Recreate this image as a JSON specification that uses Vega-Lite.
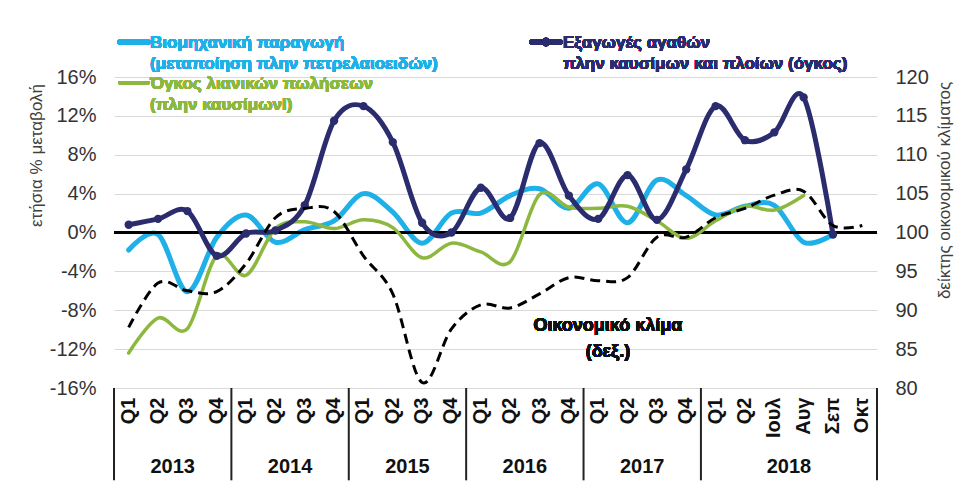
{
  "$schema": "https://vega.github.io/schema/vega-lite/v6.json",
  "width": 763,
  "height": 311,
  "autosize": {"type": "none"},
  "padding": {"left": 114, "top": 77, "right": 83, "bottom": 106},
  "background": "white",
  "config": {"view": {"stroke": null}, "font": "Liberation Sans"},
  "data": {"values": [
    {"period": "2013 Q1", "year": "2013", "q": "Q1", "ind": -1.8, "retail": -12.4, "exports": 0.8, "esi": 87.8},
    {"period": "2013 Q2", "year": "2013", "q": "Q2", "ind": -0.2, "retail": -8.8, "exports": 1.4, "esi": 93.5},
    {"period": "2013 Q3", "year": "2013", "q": "Q3", "ind": -6.1, "retail": -9.9, "exports": 2.2, "esi": 92.5},
    {"period": "2013 Q4", "year": "2013", "q": "Q4", "ind": -0.5, "retail": -2.4, "exports": -2.4, "esi": 92.4},
    {"period": "2014 Q1", "year": "2014", "q": "Q1", "ind": 1.8, "retail": -4.4, "exports": -0.1, "esi": 96.0},
    {"period": "2014 Q2", "year": "2014", "q": "Q2", "ind": -1.0, "retail": 0.4, "exports": 0.2, "esi": 101.9},
    {"period": "2014 Q3", "year": "2014", "q": "Q3", "ind": 0.3, "retail": 1.1, "exports": 2.8, "esi": 103.1},
    {"period": "2014 Q4", "year": "2014", "q": "Q4", "ind": 1.2, "retail": 0.4, "exports": 11.5, "esi": 102.7},
    {"period": "2015 Q1", "year": "2015", "q": "Q1", "ind": 4.0, "retail": 1.3, "exports": 13.0, "esi": 97.0},
    {"period": "2015 Q2", "year": "2015", "q": "Q2", "ind": 2.1, "retail": 0.5, "exports": 9.3, "esi": 92.1},
    {"period": "2015 Q3", "year": "2015", "q": "Q3", "ind": -1.1, "retail": -2.6, "exports": 1.0, "esi": 80.7},
    {"period": "2015 Q4", "year": "2015", "q": "Q4", "ind": 2.0, "retail": -1.1, "exports": 0.0, "esi": 87.6},
    {"period": "2016 Q1", "year": "2016", "q": "Q1", "ind": 2.0, "retail": -2.0, "exports": 4.6, "esi": 90.7},
    {"period": "2016 Q2", "year": "2016", "q": "Q2", "ind": 3.8, "retail": -3.0, "exports": 1.5, "esi": 90.3},
    {"period": "2016 Q3", "year": "2016", "q": "Q3", "ind": 4.5, "retail": 3.9, "exports": 9.2, "esi": 92.1},
    {"period": "2016 Q4", "year": "2016", "q": "Q4", "ind": 2.5, "retail": 2.6, "exports": 3.8, "esi": 94.2},
    {"period": "2017 Q1", "year": "2017", "q": "Q1", "ind": 5.0, "retail": 2.5, "exports": 1.4, "esi": 93.8},
    {"period": "2017 Q2", "year": "2017", "q": "Q2", "ind": 1.0, "retail": 2.7, "exports": 5.9, "esi": 94.2},
    {"period": "2017 Q3", "year": "2017", "q": "Q3", "ind": 5.4, "retail": 1.2, "exports": 1.3, "esi": 99.4},
    {"period": "2017 Q4", "year": "2017", "q": "Q4", "ind": 3.8, "retail": -0.6, "exports": 6.5, "esi": 99.4},
    {"period": "2018 Q1", "year": "2018", "q": "Q1", "ind": 1.8, "retail": 1.2, "exports": 13.0, "esi": 101.9},
    {"period": "2018 Q2", "year": "2018", "q": "Q2", "ind": 2.7, "retail": 2.7, "exports": 9.5, "esi": 103.1},
    {"period": "2018 Ιουλ", "year": "2018", "q": "Ιουλ", "ind": 2.8, "retail": 2.3, "exports": 10.3, "esi": 104.8},
    {"period": "2018 Αυγ", "year": "2018", "q": "Αυγ", "ind": -1.0, "retail": 3.8, "exports": 13.9, "esi": 105.3},
    {"period": "2018 Σεπ", "year": "2018", "q": "Σεπ", "ind": -0.2, "retail": null, "exports": -0.2, "esi": 100.9},
    {"period": "2018 Οκτ", "year": "2018", "q": "Οκτ", "ind": null, "retail": null, "exports": null, "esi": 100.9}
  ]},
  "layer": [
    {
      "layer": [
        {
          "mark": {"type": "line", "interpolate": "cardinal", "color": "#1fb0e8", "strokeWidth": 5, "strokeCap": "round", "strokeJoin": "round"},
          "encoding": {
            "x": {"field": "period", "type": "nominal", "sort": null, "bandPosition": 0.5,
              "scale": {"type": "band", "paddingInner": 0, "paddingOuter": 0,
                "domain": ["2013 Q1","2013 Q2","2013 Q3","2013 Q4","2014 Q1","2014 Q2","2014 Q3","2014 Q4","2015 Q1","2015 Q2","2015 Q3","2015 Q4","2016 Q1","2016 Q2","2016 Q3","2016 Q4","2017 Q1","2017 Q2","2017 Q3","2017 Q4","2018 Q1","2018 Q2","2018 Ιουλ","2018 Αυγ","2018 Σεπ","2018 Οκτ"]},
              "axis": {"title": null, "labelExpr": "split(datum.value, ' ')[1]", "labelAngle": 270, "labelFont": "Liberation Sans", "labelFontWeight": "bold", "labelFontSize": 20, "labelColor": "#111111", "labelPadding": 9, "labelOverlap": false, "ticks": false, "domain": false, "grid": false}},
            "y": {"field": "ind", "type": "quantitative", "scale": {"domain": [-16, 16], "nice": false},
              "axis": {"title": "ετήσια % μεταβολή", "values": [-16, -12, -8, -4, 0, 4, 8, 12, 16], "tickCount": 20, "labelOverlap": false, "labelExpr": "datum.value + '%'", "grid": true, "gridColor": "#d9d9d9", "gridWidth": 1, "ticks": false, "domain": false, "labelFont": "Liberation Sans", "labelFontSize": 20, "labelColor": "#333333", "labelPadding": 18, "titleFont": "Liberation Sans", "titleFontSize": 17, "titleFontWeight": "normal", "titleColor": "#404040", "titleAngle": 270, "titleX": -78, "titleY": 78, "titleAlign": "center", "titleBaseline": "middle"}}
          }
        },
        {
          "mark": {"type": "rule", "color": "#000000", "strokeWidth": 1.5},
          "encoding": {"y": {"datum": 0}}
        },
        {
          "mark": {"type": "line", "interpolate": "cardinal", "color": "#8cb83f", "strokeWidth": 3.5, "strokeCap": "round", "strokeJoin": "round"},
          "encoding": {
            "x": {"field": "period", "type": "nominal", "sort": null, "bandPosition": 0.5},
            "y": {"field": "retail", "type": "quantitative"}
          }
        },
        {
          "mark": {"type": "line", "interpolate": "cardinal", "color": "#2a2c6e", "strokeWidth": 5, "strokeCap": "round", "strokeJoin": "round"},
          "encoding": {
            "x": {"field": "period", "type": "nominal", "sort": null, "bandPosition": 0.5},
            "y": {"field": "exports", "type": "quantitative"}
          }
        },
        {
          "mark": {"type": "point", "filled": true, "size": 70, "opacity": 1, "color": "#2a2c6e"},
          "encoding": {
            "x": {"field": "period", "type": "nominal", "sort": null, "bandPosition": 0.5},
            "y": {"field": "exports", "type": "quantitative"}
          }
        },
        {
          "transform": [{"filter": "datum.q === 'Q1'"}],
          "mark": {"type": "rule", "color": "#222222", "strokeWidth": 2},
          "encoding": {
            "x": {"field": "period", "type": "nominal", "sort": null, "bandPosition": 0},
            "y": {"datum": -16},
            "y2": {"datum": -25.5}
          }
        },
        {
          "transform": [{"filter": "datum.q === 'Οκτ'"}],
          "mark": {"type": "rule", "color": "#222222", "strokeWidth": 2},
          "encoding": {
            "x": {"field": "period", "type": "nominal", "sort": null, "bandPosition": 1},
            "y": {"datum": -16},
            "y2": {"datum": -25.5}
          }
        },
        {
          "transform": [{"filter": "datum.q === 'Q3' || datum.q === 'Αυγ'"}],
          "mark": {"type": "text", "font": "Liberation Sans", "fontWeight": "bold", "fontSize": 20, "color": "#111111", "align": "center", "baseline": "middle"},
          "encoding": {
            "x": {"field": "period", "type": "nominal", "sort": null, "bandPosition": 0},
            "y": {"datum": -24.1},
            "text": {"field": "year"}
          }
        },
        {
          "mark": {"type": "point", "shape": "M-1,0L1,0", "filled": false, "size": 784, "strokeWidth": 5, "strokeCap": "round", "color": "#1fb0e8", "opacity": 1},
          "encoding": {"x": {"datum": "2013 Q1", "bandPosition": 0.68}, "y": {"datum": 19.6}}
        },
        {
          "mark": {"type": "point", "shape": "M-1,0L1,0", "filled": false, "size": 784, "strokeWidth": 3.5, "strokeCap": "round", "color": "#8cb83f", "opacity": 1},
          "encoding": {"x": {"datum": "2013 Q1", "bandPosition": 0.68}, "y": {"datum": 15.4}}
        },
        {
          "mark": {"type": "point", "shape": "M-1,0L1,0", "filled": false, "size": 784, "strokeWidth": 5, "strokeCap": "round", "color": "#2a2c6e", "opacity": 1},
          "encoding": {"x": {"datum": "2016 Q3", "bandPosition": 0.72}, "y": {"datum": 19.6}}
        },
        {
          "mark": {"type": "point", "filled": true, "size": 70, "color": "#2a2c6e", "opacity": 1},
          "encoding": {"x": {"datum": "2016 Q3", "bandPosition": 0.72}, "y": {"datum": 19.6}}
        },
        {
          "mark": {"type": "text", "text": ["Βιομηχανική παραγωγή", "(μεταποίηση πλην πετρελαιοειδών)"], "font": "Liberation Sans", "fontWeight": "bold", "fontSize": 17, "lineHeight": 21, "color": "#1fb0e8", "align": "left", "baseline": "middle"},
          "encoding": {"x": {"datum": "2013 Q2", "bandPosition": 0.23}, "y": {"datum": 19.5}}
        },
        {
          "mark": {"type": "text", "text": ["Όγκος λιανικών πωλήσεων", "(πλην καυσίμωνl)"], "font": "Liberation Sans", "fontWeight": "bold", "fontSize": 17, "lineHeight": 21, "color": "#8cb83f", "align": "left", "baseline": "middle"},
          "encoding": {"x": {"datum": "2013 Q2", "bandPosition": 0.23}, "y": {"datum": 15.3}}
        },
        {
          "mark": {"type": "text", "text": ["Εξαγωγές αγαθών", "πλην καυσίμων και πλοίων (όγκος)"], "font": "Liberation Sans", "fontWeight": "bold", "fontSize": 17, "lineHeight": 21, "color": "#2a2c6e", "align": "left", "baseline": "middle"},
          "encoding": {"x": {"datum": "2016 Q4", "bandPosition": 0.3}, "y": {"datum": 19.5}}
        },
        {
          "mark": {"type": "text", "text": ["Οικονομικό κλίμα", "(δεξ.)"], "font": "Liberation Sans", "fontWeight": "bold", "fontSize": 18, "lineHeight": 26, "color": "#111111", "align": "center", "baseline": "middle"},
          "encoding": {"x": {"datum": "2017 Q1", "bandPosition": 0.83}, "y": {"datum": -9.6}}
        }
      ]
    },
    {
      "mark": {"type": "line", "interpolate": "cardinal", "color": "#000000", "strokeWidth": 3, "strokeDash": [10, 6]},
      "encoding": {
        "x": {"field": "period", "type": "nominal", "sort": null, "bandPosition": 0.5},
        "y": {"field": "esi", "type": "quantitative", "scale": {"domain": [80, 120], "nice": false, "zero": false},
          "axis": {"orient": "right", "title": "δείκτης οικονομικού κλίματος", "values": [80, 85, 90, 95, 100, 105, 110, 115, 120], "tickCount": 20, "labelOverlap": false, "grid": false, "ticks": false, "domain": false, "labelFont": "Liberation Sans", "labelFontSize": 20, "labelColor": "#333333", "labelPadding": 18, "titleFont": "Liberation Sans", "titleFontSize": 17, "titleFontWeight": "normal", "titleColor": "#404040", "titleAngle": 270, "titleX": 67, "titleY": 113, "titleAlign": "center", "titleBaseline": "middle"}}
      }
    }
  ],
  "resolve": {"scale": {"y": "independent"}}
}
